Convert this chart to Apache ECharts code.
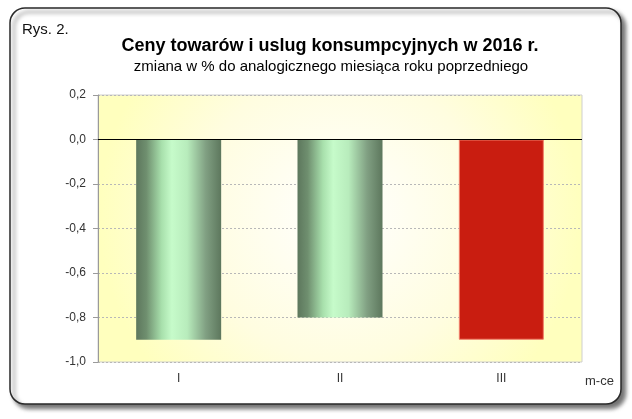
<!DOCTYPE html>
<html>
<head>
<meta charset="utf-8">
<script src="https://cdn.jsdelivr.net/npm/echarts@6/dist/echarts.min.js"></script>
<style>
html,body{margin:0;padding:0;background:#fff;}
#chart{width:632px;height:419px;}
</style>
</head>
<body>
<div id="chart"></div>
<script>
var categories = ['I', 'II', 'III'];
var values = [-0.9, -0.8, -0.9];
var yTicks = [-1.0, -0.8, -0.6, -0.4, -0.2, 0.0, 0.2];
var titleText = 'Ceny towarów i uslug konsumpcyjnych w 2016 r.';
var subtitleText = 'zmiana w % do analogicznego miesiąca roku poprzedniego';
var figLabel = 'Rys. 2.';
var axisUnit = 'm-ce';

var greenGrad = {
  type: 'linear', x: 0, y: 0, x2: 1, y2: 0,
  colorStops: [
    {offset: 0, color: '#5d775d'},
    {offset: 0.12, color: '#6f8f6f'},
    {offset: 0.3, color: '#a8e0ac'},
    {offset: 0.42, color: '#c6fbca'},
    {offset: 0.6, color: '#b8ecbc'},
    {offset: 0.82, color: '#809f82'},
    {offset: 1, color: '#5d775d'}
  ]
};
var barData = values.map(function (v, i) {
  if (i === 2) {
    return {value: v, itemStyle: {color: '#c91d10', borderColor: '#f0806a', borderWidth: 1}};
  }
  return {value: v, itemStyle: {color: greenGrad}};
});

var chart = echarts.init(document.getElementById('chart'), null, {renderer: 'canvas'});
var font = 'Liberation Sans, Arial, sans-serif';
chart.setOption({
  backgroundColor: '#ffffff',
  animation: false,
  textStyle: {fontFamily: font},
  graphic: [
    {
      type: 'rect', z: -10,
      shape: {x: 10, y: 8, width: 611, height: 396, r: 15},
      style: {fill: '#ffffff', stroke: '#2a2a2a', lineWidth: 1.5,
        shadowColor: 'rgba(0,0,0,0.55)', shadowBlur: 4, shadowOffsetX: 4, shadowOffsetY: 4}
    },
    {
      type: 'text', left: 22, top: 22,
      style: {text: figLabel, font: '15px ' + font, fill: '#111'}
    },
    {
      type: 'text', left: 585, top: 375,
      style: {text: axisUnit, font: '13px ' + font, fill: '#333'}
    }
  ],
  title: [{
    text: titleText,
    left: 325, top: 32, textAlign: 'center',
    textStyle: {fontSize: 18, fontWeight: 'bold', color: '#000', fontFamily: font}
  }, {
    text: subtitleText,
    left: 326, top: 54, textAlign: 'center',
    textStyle: {fontSize: 15, fontWeight: 'normal', color: '#000', fontFamily: font}
  }],
  grid: {
    left: 98, right: 50, top: 95, bottom: 57,
    show: true,
    borderColor: '#cfcfcf', borderWidth: 1,
    backgroundColor: {
      type: 'radial', x: 0.5, y: 0.45, r: 0.9,
      colorStops: [
        {offset: 0, color: '#ffffff'},
        {offset: 0.6, color: '#fffde0'},
        {offset: 1, color: '#ffffbe'}
      ]
    }
  },
  xAxis: {
    type: 'category',
    data: categories,
    axisLine: {show: false, onZero: false},
    axisTick: {show: false},
    axisLabel: {color: '#333', fontSize: 12, margin: 11, fontFamily: font},
    splitLine: {show: false}
  },
  yAxis: {
    type: 'value',
    min: -1.0, max: 0.2, interval: 0.2,
    axisLine: {show: true, lineStyle: {color: '#9a9a9a'}},
    axisTick: {show: true, length: 5, lineStyle: {color: '#9a9a9a'}},
    axisLabel: {
      color: '#333', fontSize: 12, margin: 12, fontFamily: font,
      formatter: function (v) {
        var s = (Math.round(v * 10) / 10).toFixed(1).replace('.', ',');
        return s === '-0,0' ? '0,0' : s;
      }
    },
    splitLine: {show: true, lineStyle: {color: '#b8b8b8', type: [2, 2], width: 1}}
  },
  series: [{
    type: 'bar',
    data: barData,
    barWidth: 85,
    markLine: {
      silent: true, symbol: 'none',
      label: {show: false},
      lineStyle: {color: '#000', type: 'solid', width: 1},
      data: [{yAxis: 0}]
    }
  }]
});
</script>
</body>
</html>
